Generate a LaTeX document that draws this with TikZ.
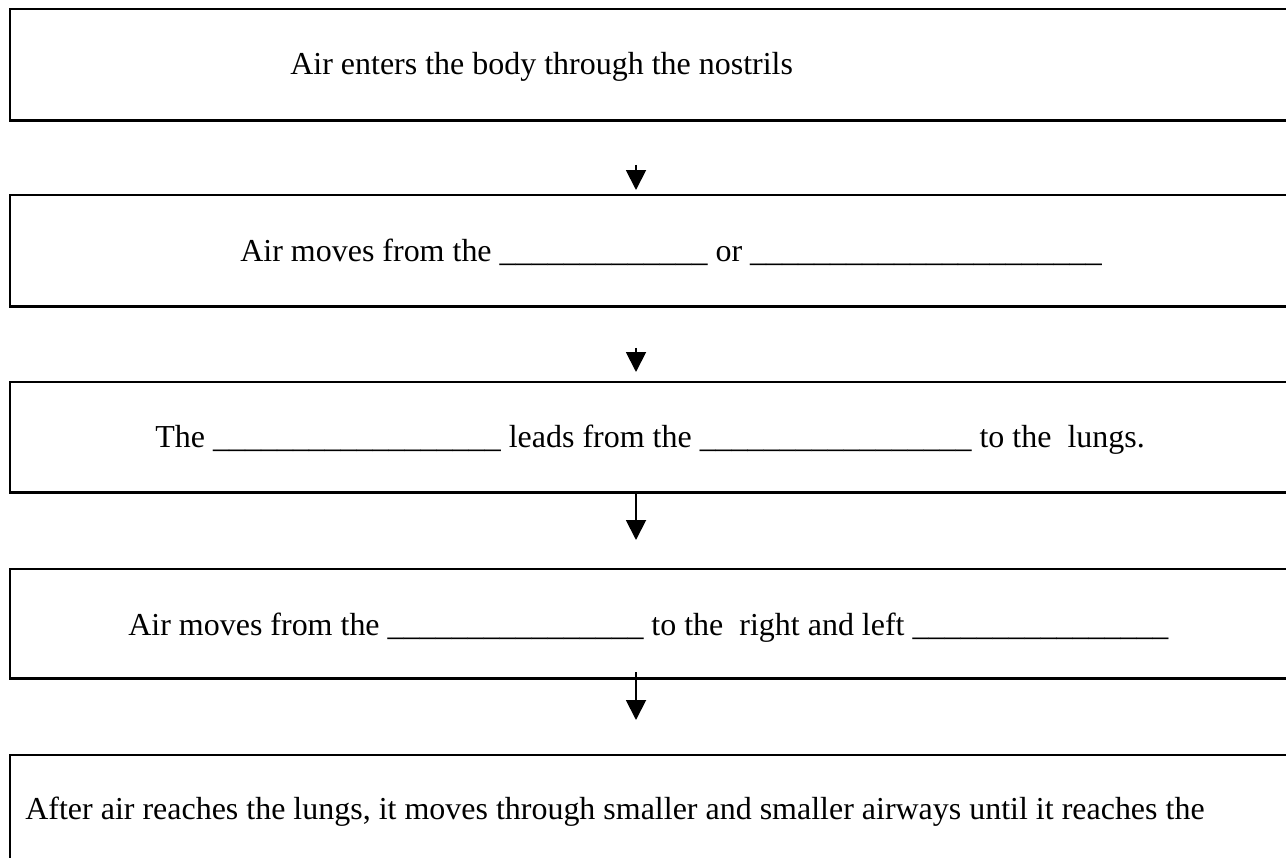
\documentclass[tikz,border=0pt]{standalone}
\usepackage{fontspec}
\setmainfont{Liberation Serif}
\usetikzlibrary{arrows.meta}

\begin{document}
\begin{tikzpicture}[x=0.02cm,y=-0.02cm,
        stagebox/.style={draw,line width=1.7pt,minimum width=27.4cm,anchor=north west,inner sep=0pt,outer sep=0pt},
        steptext/.style={anchor=base west,inner sep=0pt,font=\fontsize{18.2}{22}\selectfont},
        flow/.style={line width=1.1pt,-{Triangle[length=0.4cm,width=0.4cm]}}]
        \clip (0,0) rectangle (1286,858);

        % the five stages
        \node[stagebox,minimum height=2.24cm] (nostrils) at (10,9) {};
        \node[stagebox,minimum height=2.24cm] (nose) at (10,195) {};
        \node[stagebox,minimum height=2.22cm] (pipe) at (10,382) {};
        \node[stagebox,minimum height=2.2cm] (split) at (10,569) {};
        \node[stagebox,minimum height=4cm] (lungs) at (10,755) {};

        \node[steptext] (nostrilstext) at (290,75) {Air enters the body through the nostrils};
        \node[steptext] (nosetext) at (240,262) {Air moves from the \_\_\_\_\_\_\_\_\_\_\_\_\_ or \_\_\_\_\_\_\_\_\_\_\_\_\_\_\_\_\_\_\_\_\_\_};
        \node[steptext] (pipetext) at (155,448) {The \_\_\_\_\_\_\_\_\_\_\_\_\_\_\_\_\_\_ leads from the \_\_\_\_\_\_\_\_\_\_\_\_\_\_\_\_\_ to the\ \ lungs.};
        \node[steptext] (splittext) at (128,635) {Air moves from the \_\_\_\_\_\_\_\_\_\_\_\_\_\_\_\_ to the\ \ right and left \_\_\_\_\_\_\_\_\_\_\_\_\_\_\_\_};
        \node[steptext] (lungstext) at (25,819) {After air reaches the lungs, it moves through smaller and smaller airways until it reaches the};

        % arrows between the stages
        \coordinate (a1s) at (636,165);
        \coordinate (a1e) at (636,190);
        \coordinate (a2s) at (636,348);
        \coordinate (a2e) at (636,372);
        \coordinate (a3s) at (636,492);
        \coordinate (a3e) at (636,540);
        \coordinate (a4s) at (636,672);
        \coordinate (a4e) at (636,720);
        \draw[flow] (a1s) -- (a1e);
        \draw[flow] (a2s) -- (a2e);
        \draw[flow] (a3s) -- (a3e);
        \draw[flow] (a4s) -- (a4e);
    \end{tikzpicture}
\end{document}
